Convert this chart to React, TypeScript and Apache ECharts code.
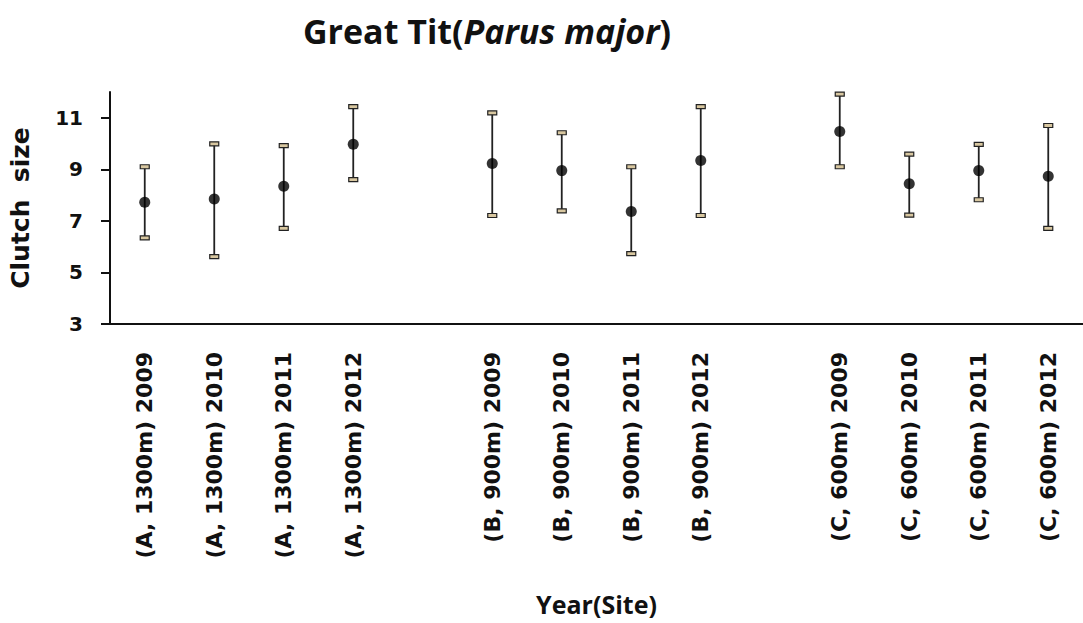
import React, { useEffect, useRef } from "react";
import * as echarts from "echarts";

const categories = [
  "(A, 1300m) 2009", "(A, 1300m) 2010", "(A, 1300m) 2011", "(A, 1300m) 2012",
  " ",
  "(B, 900m) 2009", "(B, 900m) 2010", "(B, 900m) 2011", "(B, 900m) 2012",
  "  ",
  "(C, 600m) 2009", "(C, 600m) 2010", "(C, 600m) 2011", "(C, 600m) 2012",
];
const means: (number | null)[] = [7.72, 7.85, 8.34, 9.97, null, 9.23, 8.95, 7.36, 9.34, null, 10.47, 8.44, 8.95, 8.73];
const lows: (number | null)[] = [6.34, 5.61, 6.71, 8.6, null, 7.21, 7.39, 5.73, 7.21, null, 9.1, 7.22, 7.82, 6.71];
const highs: (number | null)[] = [9.1, 9.99, 9.92, 11.43, null, 11.19, 10.42, 9.1, 11.43, null, 11.92, 9.59, 9.97, 10.7];
const yTicks = [3, 5, 7, 9, 11];

const TITLE_FONT = "'Open Sans', 'DejaVu Sans', sans-serif";
const FONT = "'DejaVu Sans', 'Open Sans', sans-serif";

export default function App() {
  const ref = useRef<HTMLDivElement>(null);
  useEffect(() => {
    if (!ref.current) return;
    const chart = echarts.init(ref.current, null, { renderer: "svg" });
    const scatterData = means.map((m, i) => (m == null ? null : [i, m])).filter((d) => d) as number[][];
    const errData = lows
      .map((l, i) => (l == null || highs[i] == null ? null : [i, l, highs[i] as number]))
      .filter((d) => d) as number[][];
    chart.setOption({
      animation: false,
      backgroundColor: "#ffffff",
      title: {
        text: "{n|Great Tit(}{i|Parus major}{n|)}",
        left: 482,
        top: 9,
        textAlign: "center",
        textStyle: {
          rich: {
            n: { fontFamily: TITLE_FONT, fontWeight: "bold", fontSize: 34, color: "#111" },
            i: { fontFamily: TITLE_FONT, fontWeight: "bold", fontStyle: "italic", fontSize: 34, color: "#111" },
          },
        },
      },
      grid: { left: 110, right: 0, top: 92, bottom: 299, containLabel: false },
      xAxis: {
        type: "category",
        data: categories,
        boundaryGap: true,
        name: "Year(Site)",
        nameLocation: "middle",
        nameGap: 267,
        nameTextStyle: { fontFamily: TITLE_FONT, fontWeight: "bold", fontSize: 25, color: "#111" },
        axisLine: { lineStyle: { color: "#111", width: 2 } },
        axisTick: {
          alignWithLabel: true,
          length: 8,
          interval: (idx: number, val: string) => val.trim() !== "",
          lineStyle: { color: "#111", width: 2 },
        },
        axisLabel: {
          rotate: 90,
          interval: 0,
          margin: 28,
          fontFamily: FONT,
          fontWeight: "bold",
          fontSize: 22,
          color: "#111",
        },
        splitLine: { show: false },
      },
      yAxis: {
        type: "value",
        min: 3,
        max: 12,
        name: "Clutch  size",
        nameLocation: "middle",
        nameGap: 77,
        nameRotate: 90,
        nameTextStyle: { fontFamily: FONT, fontWeight: "bold", fontSize: 25, color: "#111" },
        axisLine: { show: true, lineStyle: { color: "#111", width: 2 } },
        axisTick: { show: true, length: 9, customValues: yTicks, lineStyle: { color: "#111", width: 2 } },
        axisLabel: {
          customValues: yTicks,
          margin: 27,
          fontFamily: FONT,
          fontWeight: "bold",
          fontSize: 20,
          color: "#111",
        },
        splitLine: { show: false },
      },
      series: [
        {
          type: "custom",
          data: errData,
          z: 2,
          renderItem: (params: any, api: any) => {
            const x = api.value(0);
            const lo = api.coord([x, api.value(1)]);
            const hi = api.coord([x, api.value(2)]);
            const cw = 9;
            const ch = 4;
            const capStyle = { fill: "#d8c7a0", stroke: "#222", lineWidth: 1.2 };
            return {
              type: "group",
              children: [
                {
                  type: "line",
                  shape: { x1: lo[0], y1: lo[1], x2: hi[0], y2: hi[1] },
                  style: { stroke: "#222", lineWidth: 1.8 },
                },
                { type: "rect", shape: { x: hi[0] - cw / 2, y: hi[1] - ch / 2, width: cw, height: ch }, style: capStyle },
                { type: "rect", shape: { x: lo[0] - cw / 2, y: lo[1] - ch / 2, width: cw, height: ch }, style: capStyle },
              ],
            };
          },
        },
        {
          type: "scatter",
          data: scatterData,
          z: 3,
          symbol: "circle",
          symbolSize: 11,
          itemStyle: { color: "#000" },
        },
      ],
    });
    return () => chart.dispose();
  }, []);
  return (
    <div
      ref={ref}
      style={{ position: "fixed", left: 0, top: 0, width: 1083, height: 623, background: "#fff" }}
    />
  );
}
